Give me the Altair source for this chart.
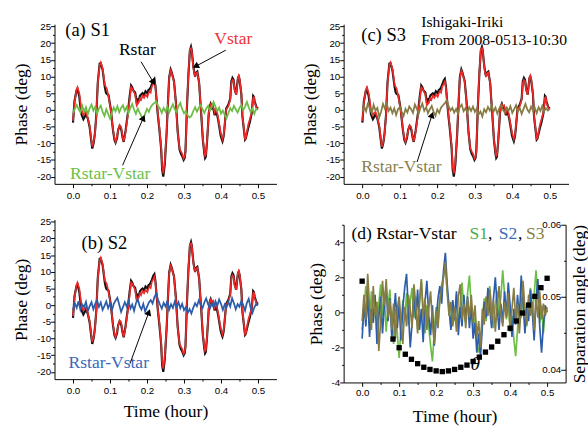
import altair as alt
import pandas as pd

# ---------------- data ----------------
phase_t = [0.000, 0.004, 0.009, 0.012, 0.017, 0.020, 0.023, 0.028, 0.032, 0.035, 0.040, 0.045, 0.049, 0.052,
           0.056, 0.059, 0.063, 0.067, 0.072, 0.075, 0.080, 0.086, 0.089, 0.091, 0.096, 0.102, 0.108, 0.112,
           0.115, 0.119, 0.122, 0.126, 0.129, 0.131, 0.134, 0.137, 0.140, 0.142, 0.148, 0.153, 0.157, 0.160,
           0.163, 0.168, 0.172, 0.175, 0.177, 0.181, 0.184, 0.188, 0.192, 0.196, 0.201, 0.204, 0.207, 0.210,
           0.213, 0.217, 0.220, 0.223, 0.226, 0.229, 0.233, 0.238, 0.241, 0.244, 0.248, 0.253, 0.257, 0.260,
           0.264, 0.267, 0.269, 0.273, 0.278, 0.283, 0.288, 0.292, 0.295, 0.299, 0.302, 0.304, 0.306, 0.308,
           0.312, 0.316, 0.319, 0.321, 0.325, 0.328, 0.330, 0.333, 0.336, 0.341, 0.344, 0.347, 0.351, 0.355,
           0.357, 0.359, 0.362, 0.365, 0.367, 0.370, 0.372, 0.375, 0.378, 0.381, 0.383, 0.386, 0.388, 0.393,
           0.399, 0.402, 0.404, 0.407, 0.409, 0.414, 0.420, 0.425, 0.428, 0.431, 0.434, 0.437, 0.441, 0.444,
           0.446, 0.448, 0.450, 0.455, 0.458, 0.462, 0.465, 0.467, 0.469, 0.474, 0.478, 0.483, 0.487, 0.489,
           0.491, 0.496, 0.500]
vstar = [-3.3, 2.0, 6.0, 6.8, 5.0, 2.5, 0.0, -1.6, -0.8, -0.6, -2.5, -4.8, -8.5, -11.0,
         -9.5, -7.5, -1.8, 8.0, 13.4, 14.2, 12.4, 7.5, 6.8, 6.5, 4.1, 0.1, -5.7, -8.5,
         -9.6, -8.0, -6.2, -4.6, -4.9, -5.7, -8.0, -9.4, -8.0, -6.7, -1.8, 3.1, 6.8, 6.4,
         5.8, 4.6, 1.3, 1.8, 2.3, 3.5, 3.0, 4.3, 3.6, 4.6, 3.9, 5.0, 5.6, 5.2,
         7.0, 7.8, 8.5, 6.5, 3.0, -0.8, -4.8, -10.7, -17.0, -19.0, -15.6, -6.7, 3.1, 9.5,
         11.8, 11.0, 10.0, 8.5, 2.1, -6.7, -11.6, -12.5, -13.1, -14.6, -14.0, -12.6, -6.0, 1.1,
         11.0, 18.0, 18.5, 17.8, 12.9, 10.8, 10.2, 11.0, 11.2, 8.0, 3.0, -1.8, -8.7, -12.5,
         -13.8, -13.5, -9.7, -4.5, -0.8, 1.0, 1.6, 1.0, 1.3, 0.0, -0.8, 0.5, 0.1, -2.8,
         -6.7, -8.0, -8.8, -7.5, -5.7, 0.1, 1.1, 3.1, 8.0, 9.0, 8.6, 6.0, 4.6, 7.5,
         9.8, 10.3, 9.5, 5.0, -1.8, -5.7, -8.7, -8.5, -7.2, -4.3, -2.8, -0.8, 3.6, 3.8,
         2.1, 0.6, 0.1]
rstar = [-3.8, 2.6, 5.6, 6.3, 4.0, 1.0, -1.4, -2.8, -2.0, -1.2, -2.6, -5.2, -9.0, -11.6,
         -9.8, -7.2, -1.6, 8.2, 13.9, 14.0, 12.0, 6.8, 5.2, 4.8, 4.4, 0.3, -6.0, -9.0,
         -9.8, -8.4, -6.0, -4.8, -5.4, -6.2, -8.3, -9.6, -7.6, -6.3, -1.2, 4.0, 7.3, 6.8,
         5.8, 5.2, 2.4, 3.0, 2.6, 4.2, 4.6, 5.0, 4.4, 5.6, 5.0, 6.0, 6.2, 6.8,
         7.6, 8.8, 9.3, 7.0, 2.8, -1.2, -5.4, -11.3, -18.0, -20.0, -16.4, -7.0, 3.0, 9.8,
         12.1, 11.2, 10.3, 8.6, 2.4, -6.5, -11.9, -13.2, -13.8, -15.0, -14.4, -12.2, -6.2, 0.8,
         10.6, 17.8, 18.9, 17.9, 13.3, 11.0, 10.0, 11.2, 11.5, 8.0, 2.8, -2.0, -9.0, -13.1,
         -14.4, -14.0, -10.0, -4.8, -1.0, 1.2, 1.8, 0.6, 1.0, -0.6, -1.6, -0.4, -0.6, -3.4,
         -7.6, -8.8, -9.4, -8.0, -6.0, 0.4, 1.6, 3.4, 8.6, 9.6, 9.0, 6.2, 4.6, 7.8,
         9.6, 10.0, 9.2, 4.8, -2.0, -6.0, -8.9, -8.6, -7.6, -5.3, -3.6, -1.0, 4.2, 3.9,
         2.6, 0.8, 0.4]

diff_t = [round(i * 0.005, 3) for i in range(101)]
s1_diff = [-1.0, 0.3, 1.5, 0.2, -0.8, 1.2, -0.5, 0.8, -1.3, 0.5, 1.6, -0.2, 0.9, -1.1, 0.4, 1.3, -0.6,
           -1.8, 0.2, -1.2, -2.6, -0.9, 0.7, -0.4, 1.1, -0.7, 0.6, 1.4, -0.3, 0.9, -1.0, 0.5, 1.8, 0.1,
           -1.2, 0.4, -0.8, -1.9, -2.8, -1.1, 0.3, -0.6, 0.8, 1.6, 2.1, 2.5, 1.2, 0.4, -0.9, 0.6, -0.5,
           1.0, -0.8, 0.5, 1.7, 0.2, -0.6, 1.1, 2.1, 0.3, -1.0, -0.3, -1.6, -2.3, -1.8, -0.4, 0.8, -0.5,
           0.6, 1.5, 0.2, -0.9, 0.4, 1.2, -0.2, 0.9, 2.4, 1.0, -0.4, 0.7, -1.1, -0.2, -1.5, -2.5, -1.0,
           0.5, -0.3, 1.2, 0.2, -0.8, 0.6, 1.4, -0.1, 1.0, 2.4, 0.8, -0.6, 0.4, -1.2, 0.3, 0.1]
s2_diff = [-1.5, 0.5, -0.8, 1.2, -1.4, 0.2, -0.6, 1.0, -1.8, -0.3, 0.9, -1.2, 0.4, 1.5, -0.5, 0.8, -1.4,
           -0.2, 1.1, -0.9, 0.5, -1.6, 0.3, 1.4, 2.2, 0.1, -2.0, -0.6, 0.9, -0.4, 1.3, -1.0, 0.2, -1.7,
           0.6, 1.8, -0.2, -1.3, 0.4, -1.9, -0.5, 0.8, 1.5, 0.5, 2.4, 3.4, 1.6, 0.2, -1.0, 0.7, -0.4,
           1.2, -1.3, 0.3, -0.8, 1.0, -0.5, 0.9, -0.9, 0.4, -1.5, -0.6, -2.3, -1.2, -2.5, -0.8, 0.6, -0.3,
           1.4, 0.2, -0.9, 0.8, 2.0, 0.3, -1.0, 0.5, -0.6, 1.2, -0.2, 1.7, 0.4, -1.4, 0.2, -0.7, 1.0,
           -0.4, 2.1, 0.6, -1.2, 0.3, -0.5, 1.3, 0.0, -1.6, 0.7, 1.9, -0.8, -2.3, -0.7, 0.4, 0.0]
s3_diff = [-0.5, 1.0, -0.4, 2.2, 0.3, -1.0, 1.5, -0.2, 0.6, -2.2, -0.5, 1.8, 0.4, 1.9, -0.3, 0.7, -1.0,
           0.5, -1.5, 0.2, 0.9, -0.5, -1.8, 0.3, -0.8, 1.0, 0.2, -0.9, 1.6, 0.4, -1.2, 0.6, 1.9, -0.3,
           0.8, -1.0, 0.2, 1.2, -0.6, -1.8, 0.1, -0.9, 0.7, 1.4, 2.0, 2.9, 1.1, -0.2, 0.6, -0.8, 0.3,
           -1.1, 0.9, 1.6, -0.4, 0.5, -0.9, 0.8, -0.3, 1.0, -0.6, 0.4, -1.4, -0.5, -2.0, 0.2, -0.7, 0.9,
           -0.2, 1.3, -0.5, 0.7, -1.1, 0.4, 1.5, 0.0, -0.8, 0.6, -0.3, 1.1, -0.9, 0.2, 1.4, -0.4, 0.5,
           -1.2, 0.3, 1.8, 0.1, -0.7, 1.0, -0.2, 0.6, -1.0, 0.8, -0.3, 1.2, -0.4, 0.5, -0.2, 0.3]

theta_minutes = [0, 5, 6, 7, 8, 9, 10, 11, 12, 13, 14, 15, 16, 17, 18, 19, 20, 21, 22, 23, 24, 25, 26, 27, 28, 29, 30]
theta_deg = [0.0522, 0.0442, 0.0430, 0.0421, 0.0414, 0.0408, 0.0403, 0.0400, 0.0398, 0.0397, 0.0398,
             0.0400, 0.0403, 0.0406, 0.0411, 0.0417, 0.0424, 0.0431, 0.0439, 0.0448, 0.0457, 0.0467,
             0.0478, 0.0489, 0.0501, 0.0513, 0.0526]

x_tick_values = [0.0, 0.05, 0.1, 0.15, 0.2, 0.25, 0.3, 0.35, 0.4, 0.45, 0.5]
phase_tick_values = [-20, -17.5, -15, -12.5, -10, -7.5, -5, -2.5, 0, 2.5, 5, 7.5, 10, 12.5, 15, 17.5, 20, 22.5, 25]
diff_tick_values = [-4, -3, -2, -1, 0, 1, 2, 3, 4, 5]
sep_tick_values = [0.04, 0.045, 0.05, 0.055, 0.06]

# annotation texts: (t, v, text, color, size)
ann_a = [(-0.021, 24.0, "(a)  S1", "#000000", 19), (0.124, 18.0, "Rstar", "#000000", 18),
         (0.382, 21.2, "Vstar", "#ee3333", 18), (-0.008, -19.2, "Rstar-Vstar", "#6cbf4a", 18)]
ann_b = [(0.023, 18.6, "(b)  S2", "#000000", 19), (-0.012, -17.5, "Rstar-Vstar", "#3a6ab8", 18)]
ann_c = [(-0.003, 22.5, "(c)  S3", "#000000", 19), (0.157, 26.3, "Ishigaki-Iriki", "#000000", 16),
         (0.157, 21.0, "From 2008-0513-10:30", "#000000", 16), (-0.003, -17.1, "Rstar-Vstar", "#8a7f48", 18)]
ann_d = [(-0.029, 4.45, "(d)  Rstar-Vstar", "#000000", 18), (0.290, 4.45, "S1", "#4cae4c", 18),
         (0.340, 4.45, ",", "#000000", 18), (0.369, 4.45, "S2", "#3a6ab8", 18),
         (0.421, 4.45, ",", "#000000", 18), (0.443, 4.45, "S3", "#8a7f48", 18)]
theta_label = [(0.293, -2.95, "θ")]
# arrows: (tail t, tail v, head t, head v, head angle)
arrows_a = [(0.184, 14.4, 0.216, 8.5, 149), (0.413, 17.9, 0.334, 13.2, 242), (0.134, -16.6, 0.189, -2.7, 24)]
arrows_b = [(0.154, -17.5, 0.204, -2.4, 20)]
arrows_c = [(0.146, -15.6, 0.185, -1.8, 18)]

# ---------------- styling ----------------
SERIF = "Liberation Serif"
SANS = "Liberation Sans"
RED = "#ec2a2a"
BLACK = "#111111"
GREEN = "#6cbd45"
BLUE = "#2c5dab"
OLIVE = "#867c44"

XDOM = [-0.05, 0.55]
PDOM = [-22.16, 25.67]
DDOM = [-4, 5]
SDOM = [0.0382, 0.06]


def ax(**kw):
    base = dict(grid=False, domainColor="black", tickColor="black", labelColor="black", labelFont=SANS,
                labelFontSize=10, titleFont=SERIF, titleFontSize=18, titleFontWeight="normal",
                titleColor="black", labelPadding=0, domainWidth=1, tickWidth=1, labelOverlap=False)
    base.update(kw)
    return alt.Axis(**base)


XMINOR = "abs(datum.value*10 - round(datum.value*10)) > 0.001"


def x_axis(title, pad, lpad):
    kw = dict(values=x_tick_values,
              labelExpr=XMINOR + " ? '' : format(datum.value, '.1f')",
              tickSize={"condition": {"test": XMINOR, "value": 2}, "value": 4}, labelPadding=lpad)
    if title:
        kw.update(title=title, titlePadding=pad)
    else:
        kw["title"] = None
    return ax(**kw)


def xenc(title, pad, lpad):
    return alt.X("t:Q", scale=alt.Scale(domain=XDOM, nice=False, zero=False), axis=x_axis(title, pad, lpad))


def phase_y():
    return alt.Y("v:Q", scale=alt.Scale(domain=PDOM, nice=False, zero=False),
                 axis=ax(values=phase_tick_values, title="Phase (deg)", titlePadding=6,
                         labelExpr="datum.value % 5 != 0 ? '' : toString(datum.value)",
                         tickSize={"condition": {"test": "datum.value % 5 != 0", "value": 2}, "value": 4}))


def text_layer(ann, X, Y):
    df = pd.DataFrame(ann, columns=["t", "v", "text", "color", "size"])
    return alt.Chart(df).mark_text(font=SERIF, align="left", baseline="middle").encode(
        x=X, y=Y, text="text:N", color=alt.Color("color:N", scale=None), size=alt.Size("size:Q", scale=None))


def arrow_layers(arrows, X, Y):
    df = pd.DataFrame(arrows, columns=["t", "v", "t2", "v2", "angle"])
    rule = alt.Chart(df).mark_rule(color="black", strokeWidth=1).encode(x=X, y=Y, x2="t2:Q", y2="v2:Q")
    hd = pd.DataFrame({"t": df["t2"], "v": df["v2"], "angle": df["angle"]})
    head = alt.Chart(hd).mark_point(shape="triangle", filled=True, color="black", size=55, opacity=1).encode(
        x=X, y=Y, angle=alt.Angle("angle:Q", scale=None))
    return [rule, head]


def phase_panel(diff, diff_color, ann, arrows, xtitle, w, h):
    X = xenc(xtitle, 7, 3)
    Y = phase_y()
    r = alt.Chart(pd.DataFrame({"t": phase_t, "v": rstar})).mark_line(color=BLACK, strokeWidth=2.2).encode(x=X, y=Y)
    v = alt.Chart(pd.DataFrame({"t": phase_t, "v": vstar})).mark_line(color=RED, strokeWidth=1.7).encode(x=X, y=Y)
    d = alt.Chart(pd.DataFrame({"t": diff_t, "v": diff})).mark_line(color=diff_color, strokeWidth=1.8).encode(x=X, y=Y)
    layers = [r, v, d, text_layer(ann, X, Y)] + arrow_layers(arrows, X, Y)
    return alt.layer(*layers).properties(width=w, height=h)


panel_a = phase_panel(s1_diff, GREEN, ann_a, arrows_a, None, 228, 164)
panel_b = phase_panel(s2_diff, BLUE, ann_b, arrows_b, "Time (hour)", 228, 164)
panel_c = phase_panel(s3_diff, OLIVE, ann_c, arrows_c, None, 231, 164)

# panel d
DW, DH = 228, 162
Xd = xenc("Time (hour)", 11, 1)
Yd = alt.Y("v:Q", scale=alt.Scale(domain=DDOM, nice=False, zero=False),
           axis=ax(values=diff_tick_values, title="Phase (deg)", titlePadding=6,
                   labelExpr="datum.value % 2 != 0 ? '' : toString(datum.value)",
                   tickSize={"condition": {"test": "datum.value % 2 != 0", "value": 2}, "value": 4}))
d_lines = [
    alt.Chart(pd.DataFrame({"t": diff_t, "v": vals})).mark_line(color=c, strokeWidth=1.7).encode(x=Xd, y=Yd)
    for vals, c in [(s1_diff, GREEN), (s2_diff, BLUE), (s3_diff, OLIVE)]
]
theta_txt = alt.Chart(pd.DataFrame(theta_label, columns=["t", "v", "text"])).mark_text(
    font=SERIF, fontStyle="italic", fontSize=20, align="left", baseline="middle", color="black").encode(
    x=Xd, y=Yd, text="text:N")
left_part = alt.layer(*d_lines, text_layer(ann_d, Xd, Yd), theta_txt)

SMINOR = "abs(datum.value*100 - round(datum.value*100)) > 0.001"
sep_axis = ax(orient="left", offset=-DW, values=sep_tick_values, title="Separation angle  (deg)",
              titleAngle=270, titleX=5, titleY=81, titleAlign="center", titleBaseline="top",
              labelExpr=SMINOR + " ? '' : format(datum.value, '.2f')",
              tickSize={"condition": {"test": SMINOR, "value": 2}, "value": 5})
theta_df = pd.DataFrame({"t": [m / 60 for m in theta_minutes], "sep": theta_deg})
squares = alt.Chart(theta_df).mark_square(size=30, color="black", opacity=1).encode(
    x=Xd, y=alt.Y("sep:Q", scale=alt.Scale(domain=SDOM, nice=False, zero=False), axis=sep_axis))
panel_d = alt.layer(left_part, squares).resolve_scale(y="independent").properties(width=DW, height=DH)

left_col = alt.vconcat(panel_a, panel_b, spacing=36.6, bounds="flush")
right_col = alt.vconcat(panel_c, panel_d, spacing=42, bounds="flush")
chart = alt.hconcat(left_col, right_col, spacing=26).properties(
    padding={"left": 13, "top": 8, "right": 0, "bottom": 0}, background="white"
).configure_view(stroke=None)

chart.save("out.html", embed_options={"renderer": "svg", "actions": False})
